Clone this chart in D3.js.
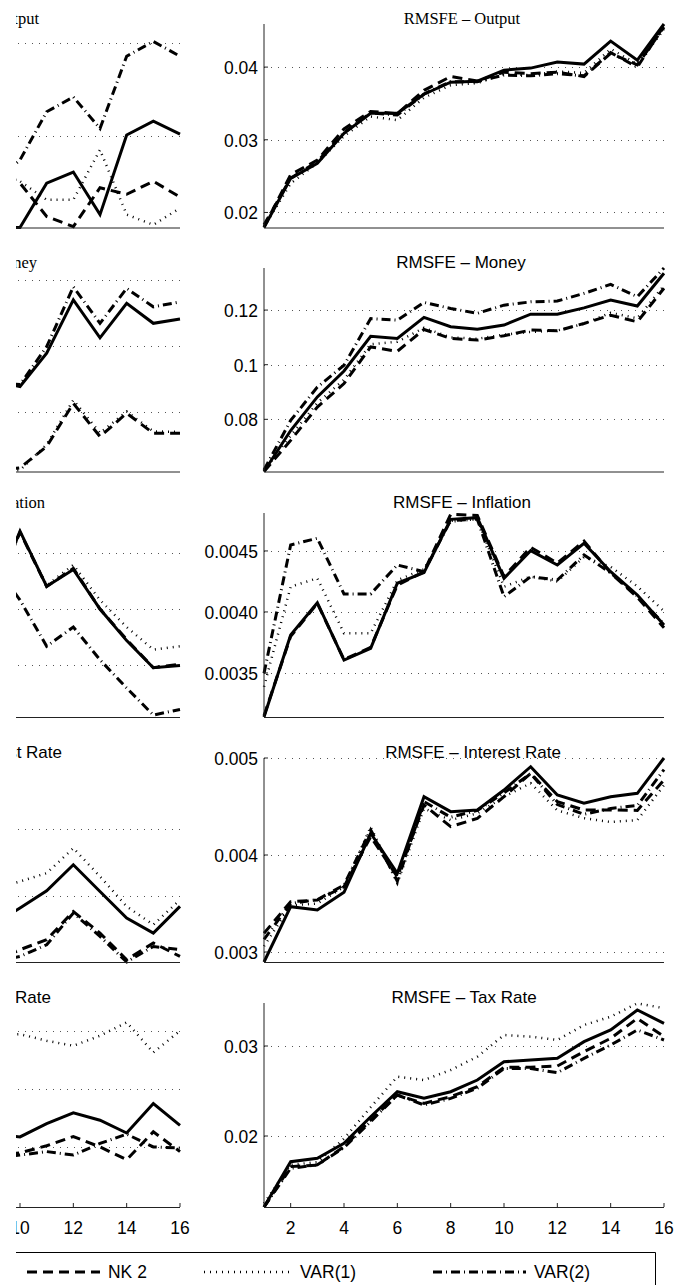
<!DOCTYPE html>
<html>
<head>
<meta charset="utf-8">
<script src="https://d3js.org/d3.v7.min.js"></script>
<style>
  body { margin: 0; background: #fff; }
  svg { display: block; }
</style>
</head>
<body>
<script>
// forecast horizons
var horizons = [1, 2, 3, 4, 5, 6, 7, 8, 9, 10, 11, 12, 13, 14, 15, 16];
var leftHorizons = [9, 10, 11, 12, 13, 14, 15, 16];   // only the tail of the left column is in the crop
var xTicksRight = [2, 4, 6, 8, 10, 12, 14, 16];
var xTicksLeft = [10, 12, 14, 16];

var legendNames = ["NK 2", "VAR(1)", "VAR(2)"];

// ---- right column: RMSFE ----
var outSolid = [0.01793, 0.02469, 0.02676, 0.03089, 0.03365, 0.03365, 0.03627, 0.03793, 0.03806, 0.03958, 0.03986, 0.04069, 0.04041, 0.04358, 0.04096, 0.04593];
var outNK2   = [0.01800, 0.02520, 0.02720, 0.03150, 0.03390, 0.03360, 0.03680, 0.03870, 0.03810, 0.03930, 0.03910, 0.03930, 0.03870, 0.04190, 0.04030, 0.04550];
var outVAR1  = [0.01800, 0.02400, 0.02680, 0.03050, 0.03320, 0.03270, 0.03580, 0.03750, 0.03780, 0.03900, 0.03890, 0.03940, 0.03920, 0.04250, 0.04040, 0.04520];
var outVAR2  = [0.01830, 0.02470, 0.02700, 0.03100, 0.03370, 0.03340, 0.03630, 0.03800, 0.03800, 0.03890, 0.03880, 0.03910, 0.03880, 0.04200, 0.04000, 0.04570];

var monSolid = [0.0609, 0.0759, 0.0882, 0.0977, 0.1104, 0.1096, 0.1173, 0.1139, 0.1130, 0.1145, 0.1185, 0.1185, 0.1208, 0.1237, 0.1215, 0.1335];
var monNK2   = [0.0609, 0.0723, 0.0845, 0.0931, 0.1065, 0.1049, 0.1129, 0.1096, 0.1090, 0.1106, 0.1127, 0.1124, 0.1151, 0.1181, 0.1157, 0.1280];
var monVAR1  = [0.0612, 0.0740, 0.0860, 0.0945, 0.1075, 0.1084, 0.1135, 0.1100, 0.1095, 0.1110, 0.1120, 0.1125, 0.1150, 0.1190, 0.1170, 0.1290];
var monVAR2  = [0.0615, 0.0796, 0.0918, 0.0998, 0.1169, 0.1163, 0.1228, 0.1206, 0.1188, 0.1218, 0.1230, 0.1233, 0.1261, 0.1294, 0.1249, 0.1354];

var infSolid = [0.003139, 0.003811, 0.004076, 0.003606, 0.003702, 0.004235, 0.004322, 0.004759, 0.004773, 0.004276, 0.004502, 0.004385, 0.004563, 0.004330, 0.004139, 0.003893];
var infNK2   = [0.003150, 0.003800, 0.004070, 0.003610, 0.003710, 0.004220, 0.004330, 0.004800, 0.004790, 0.004290, 0.004530, 0.004400, 0.004580, 0.004320, 0.004120, 0.003870];
var infVAR1  = [0.003387, 0.004207, 0.004276, 0.003825, 0.003825, 0.004260, 0.004350, 0.004740, 0.004760, 0.004207, 0.004290, 0.004250, 0.004450, 0.004370, 0.004210, 0.004006];
var infVAR2  = [0.003497, 0.004549, 0.004604, 0.004147, 0.004147, 0.004385, 0.004330, 0.004750, 0.004760, 0.004125, 0.004289, 0.004262, 0.004467, 0.004320, 0.004130, 0.003900];

var intSolid = [0.002897, 0.003467, 0.003433, 0.003616, 0.004224, 0.003812, 0.004601, 0.004447, 0.004464, 0.004670, 0.004910, 0.004619, 0.004533, 0.004601, 0.004636, 0.005000];
var intNK2   = [0.003193, 0.003519, 0.003536, 0.003673, 0.004189, 0.003776, 0.004516, 0.004292, 0.004378, 0.004601, 0.004842, 0.004550, 0.004464, 0.004464, 0.004460, 0.004773];
var intVAR1  = [0.003060, 0.003480, 0.003500, 0.003670, 0.004290, 0.003710, 0.004480, 0.004360, 0.004430, 0.004600, 0.004740, 0.004460, 0.004380, 0.004340, 0.004360, 0.004720];
var intVAR2  = [0.003130, 0.003500, 0.003540, 0.003690, 0.004260, 0.003730, 0.004550, 0.004390, 0.004460, 0.004640, 0.004840, 0.004520, 0.004420, 0.004480, 0.004510, 0.004880];

var taxSolid = [0.01211, 0.01714, 0.01752, 0.01919, 0.02214, 0.02492, 0.02419, 0.02492, 0.02622, 0.02825, 0.02844, 0.02863, 0.03048, 0.03178, 0.03400, 0.03252];
var taxNK2   = [0.01211, 0.01660, 0.01677, 0.01882, 0.02178, 0.02455, 0.02363, 0.02437, 0.02548, 0.02763, 0.02763, 0.02778, 0.02937, 0.03085, 0.03307, 0.03104];
var taxVAR1  = [0.01250, 0.01680, 0.01710, 0.01970, 0.02320, 0.02659, 0.02622, 0.02733, 0.02881, 0.03122, 0.03104, 0.03067, 0.03233, 0.03326, 0.03474, 0.03420];
var taxVAR2  = [0.01210, 0.01641, 0.01680, 0.01870, 0.02160, 0.02455, 0.02345, 0.02418, 0.02530, 0.02750, 0.02750, 0.02703, 0.02863, 0.03011, 0.03178, 0.03067];

// ---- left column (horizons 9..16) ----
var lOutSolid = [0.0202, 0.0201, 0.0249, 0.0261, 0.0215, 0.0301, 0.0316, 0.0302];
var lOutNK2   = [0.0265, 0.0249, 0.0213, 0.0202, 0.0244, 0.0237, 0.0251, 0.0234];
var lOutVAR1  = [0.0265, 0.0251, 0.0231, 0.0231, 0.0285, 0.0215, 0.0204, 0.0222];
var lOutVAR2  = [0.0249, 0.0274, 0.0326, 0.0342, 0.0308, 0.0386, 0.0402, 0.0386];

var lMonSolid = [0.0895, 0.0876, 0.0977, 0.1139, 0.1024, 0.1129, 0.1068, 0.1081];
var lMonNK2   = [0.0620, 0.0629, 0.0694, 0.0825, 0.0724, 0.0795, 0.0734, 0.0734];
var lMonVAR1  = [0.0618, 0.0622, 0.0700, 0.0835, 0.0735, 0.0800, 0.0740, 0.0738];
var lMonVAR2  = [0.0890, 0.0882, 0.0997, 0.1179, 0.1068, 0.1174, 0.1118, 0.1133];

var lInfSolid = [0.00460, 0.00519, 0.00470, 0.00485, 0.00450, 0.00422, 0.00398, 0.00400];
var lInfNK2   = [0.00460, 0.00518, 0.00470, 0.00486, 0.00450, 0.00423, 0.00398, 0.00401];
var lInfVAR1  = [0.00460, 0.00518, 0.00471, 0.00489, 0.00458, 0.00434, 0.00414, 0.00417];
var lInfVAR2  = [0.00490, 0.00458, 0.00417, 0.00434, 0.00405, 0.00380, 0.00356, 0.00361];

var lIntSolid = [0.003280, 0.003407, 0.003537, 0.003733, 0.003532, 0.003331, 0.003218, 0.003419];
var lIntNK2   = [0.003000, 0.003093, 0.003168, 0.003381, 0.003218, 0.003017, 0.003143, 0.003042];
var lIntVAR1  = [0.003550, 0.003607, 0.003670, 0.003858, 0.003645, 0.003419, 0.003281, 0.003469];
var lIntVAR2  = [0.003000, 0.003042, 0.003130, 0.003369, 0.003193, 0.003000, 0.003117, 0.003093];

var lTaxSolid = [0.02110, 0.02086, 0.02201, 0.02293, 0.02230, 0.02120, 0.02373, 0.02186];
var lTaxNK2   = [0.01920, 0.01950, 0.02010, 0.02090, 0.02000, 0.01890, 0.02130, 0.01960];
var lTaxVAR1  = [0.02960, 0.02971, 0.02914, 0.02871, 0.02957, 0.03072, 0.02813, 0.03000];
var lTaxVAR2  = [0.01900, 0.01930, 0.01960, 0.01930, 0.02030, 0.02110, 0.02000, 0.01990];

// axis limits (tight) and ticks
var rightDomains = [[0.01793, 0.04593], [0.0609, 0.1354], [0.003139, 0.004811], [0.002897, 0.005], [0.01211, 0.03478]];
var rightTicks = [[0.02, 0.03, 0.04], [0.08, 0.1, 0.12], [0.0035, 0.004, 0.0045], [0.003, 0.004, 0.005], [0.02, 0.03]];
var rightTickLabels = [["0.02", "0.03", "0.04"], ["0.08", "0.1", "0.12"], ["0.0035", "0.0040", "0.0045"], ["0.003", "0.004", "0.005"], ["0.02", "0.03"]];
var leftDomains = [[0.02011, 0.04208], [0.0618, 0.1236], [0.003543, 0.005351], [0.003, 0.004538], [0.01483, 0.03239]];
var leftTicks = [[0.03, 0.04], [0.08, 0.1, 0.12], [0.004, 0.0045, 0.005], [0.0035, 0.004], [0.02, 0.025, 0.03]];

var titles = ["RMSFE \u2013 Output", "RMSFE \u2013 Money", "RMSFE \u2013 Inflation", "RMSFE \u2013 Interest Rate", "RMSFE \u2013 Tax Rate"];

// ---- layout ----
var W = 676, H = 1285;
var cropLeft = 16;          // the figure is cut a little right of the page edge
var rows = [
  {top: 24, bottom: 227.5, titleY: 24},
  {top: 268, bottom: 471.5, titleY: 268},
  {top: 513, bottom: 717, titleY: 508},
  {top: 758, bottom: 962, titleY: 758},
  {top: 1003, bottom: 1207, titleY: 1003}
];
var rightX = [264, 664], leftX = [-220, 180];
var rightSerif = [true, false, false, false, false];
var leftSerif = [true, true, true, false, false];
var rightTitleX = [462, 461, 462, 473, 464];
var leftTitleEnd = [39, 37, 45, 62, 51];

var SANS = "'Liberation Sans', Arial, Helvetica, sans-serif";
var SERIF = "'Liberation Serif', 'Times New Roman', serif";

var lineStyles = {
  solid: {w: 3, dash: null},
  nk2:   {w: 3, dash: "10,6"},
  var1:  {w: 2.5, dash: "1,5"},
  var2:  {w: 3, dash: "9,4,1,4"}
};

var root = d3.select("body").append("svg")
    .attr("width", W).attr("height", H);
root.append("defs").append("clipPath").attr("id", "crop")
  .append("rect").attr("x", cropLeft).attr("y", 0)
  .attr("width", W - cropLeft).attr("height", H);
var svg = root.append("g").attr("clip-path", "url(#crop)");

var rightSeries = [
  [outSolid, outNK2, outVAR1, outVAR2],
  [monSolid, monNK2, monVAR1, monVAR2],
  [infSolid, infNK2, infVAR1, infVAR2],
  [intSolid, intNK2, intVAR1, intVAR2],
  [taxSolid, taxNK2, taxVAR1, taxVAR2]
];
var leftSeries = [
  [lOutSolid, lOutNK2, lOutVAR1, lOutVAR2],
  [lMonSolid, lMonNK2, lMonVAR1, lMonVAR2],
  [lInfSolid, lInfNK2, lInfVAR1, lInfVAR2],
  [lIntSolid, lIntNK2, lIntVAR1, lIntVAR2],
  [lTaxSolid, lTaxNK2, lTaxVAR1, lTaxVAR2]
];
var styleKeys = ["solid", "nk2", "var1", "var2"];

function panel(row, xr, domain, ticks, tickLabels, hs, series, isBottom, xTicks) {
  var g = svg.append("g");
  var x = d3.scaleLinear().domain([1, 16]).range(xr);
  var y = d3.scaleLinear().domain(domain).range([row.bottom, row.top]);

  // dotted grid
  g.selectAll(".grid").data(ticks).enter().append("line")
    .attr("x1", xr[0]).attr("x2", xr[1])
    .attr("y1", function(d) { return Math.round(y(d)) + 0.5; })
    .attr("y2", function(d) { return Math.round(y(d)) + 0.5; })
    .attr("stroke", "#555").attr("stroke-width", 1)
    .attr("stroke-dasharray", "1,6");

  // series
  var line = d3.line()
    .x(function(d) { return x(d[0]); })
    .y(function(d) { return y(d[1]); });
  series.forEach(function(vals, i) {
    var st = lineStyles[styleKeys[i]];
    g.append("path")
      .datum(hs.map(function(h, k) { return [h, vals[k]]; }))
      .attr("d", line)
      .attr("fill", "none")
      .attr("stroke", "#000")
      .attr("stroke-width", st.w)
      .attr("stroke-linejoin", "miter")
      .attr("stroke-miterlimit", 4)
      .attr("stroke-dasharray", st.dash);
  });

  // axes (left + bottom only)
  g.append("line").attr("x1", xr[0]).attr("x2", xr[0])
    .attr("y1", row.top).attr("y2", row.bottom)
    .attr("stroke", "#222").attr("stroke-width", 1);
  g.append("line").attr("x1", xr[0]).attr("x2", xr[1])
    .attr("y1", row.bottom + 0.5).attr("y2", row.bottom + 0.5)
    .attr("stroke", "#222").attr("stroke-width", 1);
  g.selectAll(".ytick").data(ticks).enter().append("line")
    .attr("x1", xr[0]).attr("x2", xr[0] + 4)
    .attr("y1", function(d) { return y(d); })
    .attr("y2", function(d) { return y(d); })
    .attr("stroke", "#222");

  if (tickLabels) {
    g.selectAll(".ylab").data(ticks).enter().append("text")
      .attr("transform", function(d) { return "translate(" + (xr[0] - 6) + "," + y(d) + ") scale(0.92,1)"; })
      .attr("text-anchor", "end")
      .attr("dy", "0.36em")
      .style("font-family", SANS)
      .style("font-size", "19px")
      .text(function(d, i) { return tickLabels[i]; });
  }

  if (isBottom) {
    g.selectAll(".xtick").data(xTicks).enter().append("line")
      .attr("x1", function(d) { return x(d); })
      .attr("x2", function(d) { return x(d); })
      .attr("y1", row.bottom).attr("y2", row.bottom - 4)
      .attr("stroke", "#222");
    g.selectAll(".xlab").data(xTicks).enter().append("text")
      .attr("transform", function(d) { return "translate(" + x(d) + "," + (row.bottom + 27) + ") scale(0.92,1)"; })
      .attr("text-anchor", "middle")
      .style("font-family", SANS)
      .style("font-size", "19px")
      .text(function(d) { return d; });
  }
  return g;
}

rows.forEach(function(row, r) {
  var isBottom = r === rows.length - 1;
  panel(row, leftX, leftDomains[r], leftTicks[r], null, leftHorizons, leftSeries[r], isBottom, xTicksLeft);
  panel(row, rightX, rightDomains[r], rightTicks[r], rightTickLabels[r], horizons, rightSeries[r], isBottom, xTicksRight);

  // titles
  svg.append("text")
    .attr("x", rightTitleX[r]).attr("y", row.titleY)
    .attr("text-anchor", "middle")
    .style("font-family", rightSerif[r] ? SERIF : SANS)
    .style("font-size", rightSerif[r] ? "16.5px" : "17px")
    .text(titles[r]);
  svg.append("text")
    .attr("x", leftTitleEnd[r]).attr("y", row.titleY)
    .attr("text-anchor", "end")
    .style("font-family", leftSerif[r] ? SERIF : SANS)
    .style("font-size", leftSerif[r] ? "16.5px" : "17px")
    .text(titles[r]);
});

// legend (box runs off the left and bottom edges)
var legTop = 1252.5, legRight = 655.5;
svg.append("path")
  .attr("d", "M-10," + legTop + "H" + legRight + "V" + (H + 10))
  .attr("fill", "none").attr("stroke", "#000").attr("stroke-width", 1);

var legItems = [
  {name: legendNames[0], key: "nk2", x0: 27, x1: 100, tx: 108},
  {name: legendNames[1], key: "var1", x0: 204, x1: 290, tx: 300},
  {name: legendNames[2], key: "var2", x0: 433, x1: 526, tx: 534}
];
var leg = svg.append("g");
leg.selectAll(".ls").data(legItems).enter().append("line")
  .attr("x1", function(d) { return d.x0; })
  .attr("x2", function(d) { return d.x1; })
  .attr("y1", 1272).attr("y2", 1272)
  .attr("stroke", "#000")
  .attr("stroke-width", function(d) { return lineStyles[d.key].w; })
  .attr("stroke-dasharray", function(d) { return lineStyles[d.key].dash; });
leg.selectAll(".lt").data(legItems).enter().append("text")
  .attr("transform", function(d) { return "translate(" + d.tx + ",1278) scale(0.92,1)"; })
  .style("font-family", SANS)
  .style("font-size", "19px")
  .text(function(d) { return d.name; });
</script>
</body>
</html>
